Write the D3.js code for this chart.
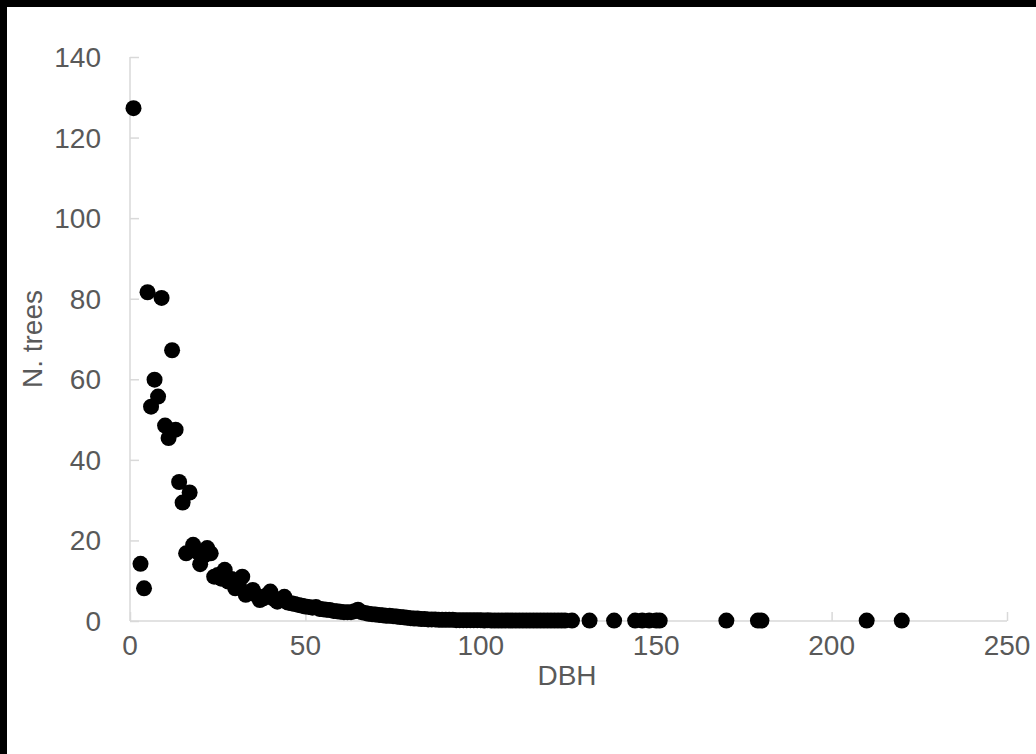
<!DOCTYPE html>
<html>
<head>
<meta charset="utf-8">
<script src="https://cdn.jsdelivr.net/npm/d3@7"></script>
<style>
  body { margin: 0; background: #fff; }
  text { font-family: "Liberation Sans", Arial, sans-serif; fill: #595959; }
</style>
</head>
<body>
<svg id="chart" width="1036" height="754"></svg>
<script>
// DBH classes and number of trees
var dbh = [1, 3, 4, 5, 6, 7, 8, 9, 10, 11, 12, 13, 14, 15, 16, 17, 18, 19, 20,
  21, 22, 23, 24, 25, 26, 27, 28, 29, 30, 31, 32, 33, 34, 35, 36, 37, 38, 39, 40,
  41, 42, 43, 44, 45, 46, 47, 48, 49, 50, 51, 52, 53, 54, 55, 56, 57, 58, 59, 60,
  61, 62, 63, 64, 65, 66, 67, 68, 69, 70, 71, 72, 73, 74, 75, 76, 77, 78, 79, 80,
  81, 82, 83, 84, 85, 86, 87, 88, 89, 90, 91, 92, 93, 94, 95, 96, 97, 98, 99, 100,
  101, 102, 103, 104, 105, 106, 107, 108, 109, 110, 111, 112, 113, 114, 115, 116, 117, 118, 119, 120,
  121, 122, 123, 124, 126, 131, 138, 144, 146, 148, 150, 151, 170, 179, 180, 210, 220];
var trees = [127.3, 14.2, 8.1, 81.6, 53.2, 59.9, 55.7, 80.2, 48.5, 45.4, 67.2, 47.5, 34.5, 29.4, 16.8, 31.9, 18.9, 17.2, 14.1,
  16.2, 18.1, 16.8, 11.0, 11.4, 10.5, 12.7, 9.8, 10.4, 8.1, 9.0, 11.0, 6.5, 7.0, 7.7, 6.4, 5.2, 5.6, 6.4, 7.3,
  5.5, 4.8, 5.4, 6.0, 4.6, 4.4, 4.2, 4.0, 3.8, 3.6, 3.5, 3.3, 3.5, 3.0, 2.9, 2.8, 2.7, 2.5, 2.4, 2.3,
  2.2, 2.2, 2.2, 2.4, 2.8, 2.2, 2.0, 1.8, 1.7, 1.6, 1.5, 1.4, 1.3, 1.3, 1.2, 1.1, 1.0, 0.9, 0.8, 0.7,
  0.6, 0.6, 0.5, 0.5, 0.4, 0.4, 0.4, 0.3, 0.3, 0.3, 0.3, 0.3, 0.2, 0.2, 0.2, 0.2, 0.2, 0.2, 0.2, 0.2,
  0.1, 0.2, 0.1, 0.1, 0.1, 0.1, 0.1, 0.1, 0.1, 0.1, 0.1, 0.1, 0.1, 0.1, 0.1, 0.1, 0.1, 0.1, 0.1, 0.1,
  0.1, 0.1, 0.1, 0.1, 0.1, 0.1, 0.1, 0.1, 0.1, 0.1, 0.1, 0.1, 0.1, 0.1, 0.1, 0.1, 0.1];
var xTicks = [0, 50, 100, 150, 200, 250];
var yTicks = [0, 20, 40, 60, 80, 100, 120, 140];

var svg = d3.select("#chart");

// white page with the dark frame on top and left
svg.append("rect").attr("width", 1036).attr("height", 754).attr("fill", "#fff");
svg.append("rect").attr("width", 1036).attr("height", 7).attr("fill", "#000");
svg.append("rect").attr("width", 7).attr("height", 754).attr("fill", "#000");

var x = d3.scaleLinear().domain([0, 250]).range([130, 1007]);
var y = d3.scaleLinear().domain([0, 140]).range([621, 57]);

var axisCol = "#d9d9d9";

// y axis (ticks point inward)
var gy = svg.append("g").attr("transform", "translate(130,0)")
  .call(d3.axisRight(y).tickValues(yTicks).tickSize(9).tickFormat(""));
gy.select(".domain").remove();
gy.selectAll("line").attr("stroke", axisCol).attr("stroke-width", 1.5);
svg.append("line").attr("x1", 130).attr("x2", 130).attr("y1", y(140)).attr("y2", y(0))
  .attr("stroke", axisCol).attr("stroke-width", 1.5);

svg.selectAll("text.ylab")
  .data(yTicks).enter()
  .append("text").attr("class", "ylab")
  .attr("x", 101).attr("y", function(d){ return y(d) + 10; })
  .attr("text-anchor", "end")
  .style("font-size", "28px")
  .text(function(d){ return d; });

// x axis
var gx = svg.append("g").attr("transform", "translate(0,621)")
  .call(d3.axisTop(x).tickValues(xTicks).tickSize(9).tickFormat(""));
gx.select(".domain").remove();
gx.selectAll("line").attr("stroke", axisCol).attr("stroke-width", 1.5);
svg.append("line").attr("x1", x(0)).attr("x2", x(250)).attr("y1", 621).attr("y2", 621)
  .attr("stroke", axisCol).attr("stroke-width", 1.5);

svg.selectAll("text.xlab")
  .data(xTicks).enter()
  .append("text").attr("class", "xlab")
  .attr("x", function(d){ return x(d); }).attr("y", 655)
  .attr("text-anchor", "middle")
  .style("font-size", "28px")
  .text(function(d){ return d; });

// axis titles
svg.append("text")
  .attr("x", 567).attr("y", 685)
  .attr("text-anchor", "middle")
  .style("font-size", "28px")
  .text("DBH");

svg.append("text")
  .attr("transform", "translate(42,339) rotate(-90)")
  .attr("text-anchor", "middle")
  .style("font-size", "28px")
  .text("N. trees");

// dots
var pts = dbh.map(function(d, i){ return {dbh: d, n: trees[i]}; });
svg.append("g").attr("class", "dots")
  .selectAll("circle")
  .data(pts).enter()
  .append("circle")
  .attr("r", 8)
  .attr("cx", function(d){ return x(d.dbh); })
  .attr("cy", function(d){ return y(d.n); })
  .attr("fill", "#000");
</script>
</body>
</html>
